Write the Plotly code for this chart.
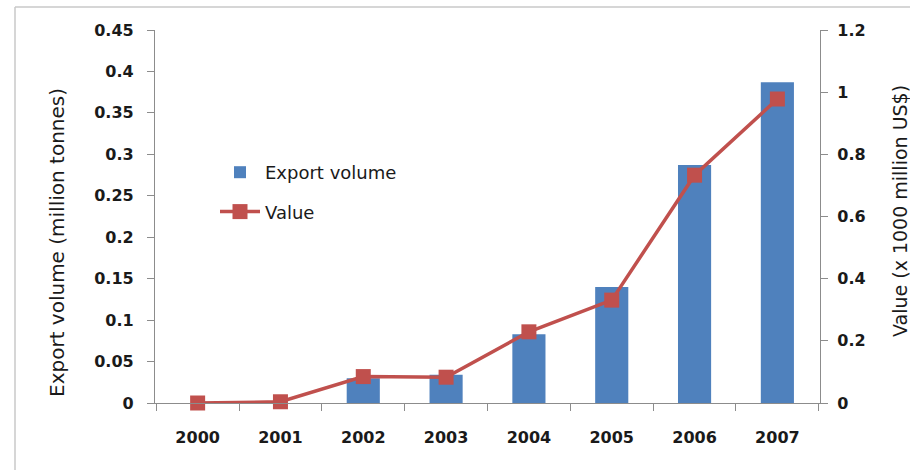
import plotly.graph_objects as go

years = ["2000", "2001", "2002", "2003", "2004", "2005", "2006", "2007"]
export_volume = [0.0, 0.0, 0.030, 0.034, 0.083, 0.140, 0.287, 0.387]
value = [0.0, 0.004, 0.085, 0.083, 0.229, 0.331, 0.733, 0.978]

W, H = 910, 470
L, R, T, B = 155, 90, 30, 67
pw, ph = W - L - R, H - T - B

def px_x(x):
    return (x - L) / pw

def px_y(y):
    return (H - B - y) / ph

tickfont = dict(family="DejaVu Sans", size=16, color="#1a1a1a", weight="bold")
axis_col = "#8c8c8c"

fig = go.Figure()
fig.add_trace(go.Bar(x=years, y=export_volume, name="Export volume",
                     marker=dict(color="#4F81BD", line=dict(width=0)),
                     width=0.4, yaxis="y", legendgroup="a"))
fig.add_trace(go.Scatter(x=years, y=value, name="Value", mode="lines+markers",
                         line=dict(color="#C0504D", width=3.5),
                         marker=dict(symbol="square", size=15, color="#C0504D"),
                         yaxis="y2", cliponaxis=False, legendgroup="b"))

fig.update_layout(
    width=W, height=H,
    margin=dict(l=L, r=R, t=T, b=B),
    paper_bgcolor="white", plot_bgcolor="white",
    showlegend=True,
    legend=dict(x=px_x(215), y=px_y(154), xanchor="left", yanchor="top",
                bgcolor="rgba(0,0,0,0)", font=dict(family="DejaVu Sans", size=18, color="#1a1a1a"),
                tracegroupgap=13, itemwidth=40),
    xaxis=dict(type="category", showline=True, linecolor=axis_col, linewidth=1.2,
               ticks="outside", tickson="boundaries", ticklen=7, tickcolor=axis_col,
               tickfont=tickfont, showgrid=False, ticklabelstandoff=20),
    yaxis=dict(range=[0, 0.45], dtick=0.05, showline=True, linecolor=axis_col, linewidth=1.2,
               ticks="outside", ticklen=7, tickcolor=axis_col, tickfont=tickfont,
               showgrid=False, zeroline=False, ticklabelstandoff=10),
    yaxis2=dict(range=[0, 1.2], dtick=0.2, overlaying="y", side="right", showline=True,
                linecolor=axis_col, linewidth=1.2, ticks="outside", ticklen=7, tickcolor=axis_col,
                tickfont=tickfont, showgrid=False, zeroline=False, ticklabelstandoff=6),
    annotations=[
        dict(text="Export volume (million tonnes)", xref="paper", yref="paper",
             x=px_x(57), y=px_y(243), xanchor="center", yanchor="middle",
             textangle=-90, showarrow=False,
             font=dict(family="DejaVu Sans", size=20, color="#1a1a1a")),
        dict(text="Value (x 1000 million US$)", xref="paper", yref="paper",
             x=px_x(900), y=px_y(211), xanchor="center", yanchor="middle",
             textangle=-90, showarrow=False,
             font=dict(family="DejaVu Sans", size=19, color="#1a1a1a")),
    ],
    shapes=[
        dict(type="line", xref="paper", yref="paper", x0=px_x(15), x1=px_x(912),
             y0=px_y(7), y1=px_y(7), line=dict(color="#c8c8c8", width=1.5)),
        dict(type="line", xref="paper", yref="paper", x0=px_x(15), x1=px_x(15),
             y0=px_y(7), y1=px_y(472), line=dict(color="#c8c8c8", width=1.5)),
    ],
)

fig.write_html("out.html")
